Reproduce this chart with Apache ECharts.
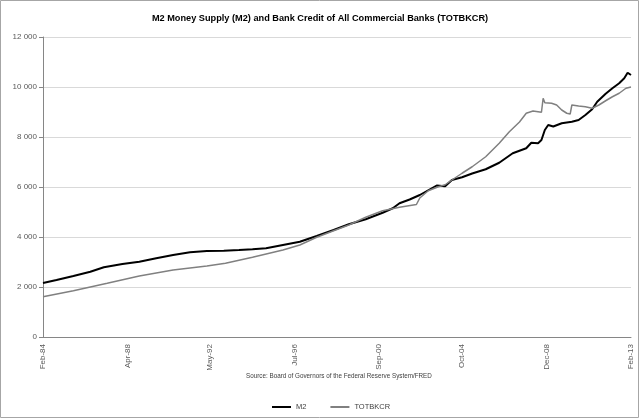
<!DOCTYPE html>
<html>
<head>
<meta charset="utf-8">
<script src="https://cdn.jsdelivr.net/npm/echarts@6/dist/echarts.min.js"></script>
<style>
html,body{margin:0;padding:0;background:#fff;}
#c{width:640px;height:419px;}
</style>
</head>
<body>
<div id="c"></div>
<script>
const monthNames = ['Jan','Feb','Mar','Apr','May','Jun','Jul','Aug','Sep','Oct','Nov','Dec'];
// Monthly categories Feb-84 .. Feb-13
const categories = [];
for (let y = 1984; y <= 2013; y++) {
  for (let m = 0; m < 12; m++) {
    if (y === 1984 && m < 1) continue;
    if (y === 2013 && m > 1) continue;
    categories.push(monthNames[m] + '-' + String(y).slice(2));
  }
}
const tickLabels = ['Feb-84','Apr-88','May-92','Jul-96','Sep-00','Oct-04','Dec-08','Feb-13'];

const m2Dates = ['Feb-84','Oct-84','Aug-85','Jun-86','Feb-87','Jan-88','Nov-88','Sep-89','Jul-90','May-91',
  'Mar-92','Jan-93','Oct-93','Jun-94','Feb-95','Dec-95','Oct-96','Aug-97','Jun-98','Mar-99',
  'Jan-00','Nov-00','May-01','Sep-01','Mar-02','Sep-02','Jul-03','Dec-03','Apr-04','Oct-04',
  'Apr-05','Dec-05','Aug-06','Apr-07','Dec-07','Mar-08','Jul-08','Sep-08','Nov-08','Jan-09',
  'Apr-09','Sep-09','Mar-10','Jul-10','Nov-10','Mar-11','Jun-11','Nov-11','Mar-12','Jul-12',
  'Oct-12','Dec-12','Feb-13'];
const m2Values = [2160,2280,2440,2610,2790,2920,3010,3150,3280,3390,
  3440,3450,3480,3510,3550,3680,3810,4040,4280,4510,
  4710,4970,5150,5350,5500,5680,6060,6030,6280,6390,
  6540,6710,6970,7350,7550,7770,7750,7880,8280,8480,
  8420,8550,8610,8680,8880,9110,9410,9730,9950,10150,
  10350,10570,10480];

const bankDates = ['Feb-84','Aug-85','Apr-87','Nov-88','Jul-90','Mar-92','Feb-93','Jun-94','Dec-95','Oct-96',
  'Aug-97','Jun-98','Mar-99','Jan-00','Nov-00','Sep-01','Jul-02','Sep-02','Feb-03','Aug-03',
  'Dec-03','Apr-04','Oct-04','Apr-05','Dec-05','Aug-06','Feb-07','Aug-07','Dec-07','Apr-08',
  'Sep-08','Oct-08','Nov-08','Mar-09','Jun-09','Sep-09','Dec-09','Feb-10','Mar-10','Jul-10',
  'Nov-10','Mar-11','Jul-11','Nov-11','Mar-12','Jul-12','Nov-12','Feb-13'];
const bankValues = [1610,1850,2150,2440,2680,2840,2950,3190,3480,3680,
  3990,4250,4480,4790,5050,5190,5300,5560,5850,6010,
  6090,6280,6550,6810,7210,7750,8210,8600,8950,9040,
  8990,9550,9370,9350,9280,9080,8950,8920,9280,9240,
  9210,9150,9280,9450,9610,9750,9950,10000];

const toPairs = (dates, vals) => dates.map((d, i) => [categories.indexOf(d), vals[i]]);

const chart = echarts.init(document.getElementById('c'), null, {renderer: 'canvas'});
const font = "'Liberation Sans', Arial, sans-serif";
chart.setOption({
  animation: false,
  backgroundColor: '#fff',
  textStyle: {fontFamily: font},
  title: {
    text: 'M2 Money Supply (M2) and Bank Credit of All Commercial Banks (TOTBKCR)',
    left: 'center', top: 9,
    textStyle: {fontSize: 9.2, fontWeight: 'bold', color: '#000', fontFamily: font}
  },
  grid: {left: 43, right: 9, top: 37, bottom: 82, containLabel: false, outerBoundsMode: 'none'},
  xAxis: {
    type: 'category',
    data: categories,
    boundaryGap: false,
    axisLine: {lineStyle: {color: '#868686', width: 1}},
    axisTick: {show: false},
    axisLabel: {
      interval: (i, v) => tickLabels.includes(v),
      rotate: 90, fontSize: 8, color: '#595959', margin: 7, fontFamily: font
    },
    splitLine: {show: false}
  },
  yAxis: {
    type: 'value', min: 0, max: 12000, interval: 2000,
    name: 'Billions of Dollars', nameLocation: 'middle', nameGap: 34,
    nameTextStyle: {fontSize: 8, color: '#595959', fontFamily: font},
    axisLine: {show: true, lineStyle: {color: '#868686'}},
    axisTick: {show: true, length: 4, lineStyle: {color: '#868686'}},
    axisLabel: {
      fontSize: 8, color: '#595959', margin: 6, fontFamily: font,
      formatter: v => String(v).replace(/\B(?=(\d{3})+(?!\d))/g, ' ')
    },
    splitLine: {lineStyle: {color: '#d9d9d9', width: 1}}
  },
  legend: {
    top: 398, left: 267, itemWidth: 19, itemHeight: 2, itemGap: 24, icon: 'rect',
    textStyle: {fontSize: 7.5, color: '#404040', fontFamily: font},
    data: ['M2', 'TOTBKCR']
  },
  graphic: [
    {type: 'text', left: 246, top: 373,
      style: {text: 'Source: Board of Governors of the Federal Reserve System/FRED', fontSize: 6.3, fill: '#404040', fontFamily: font}},
    {type: 'rect', shape: {x: 0.5, y: 0.5, width: 638, height: 417}, style: {fill: 'none', stroke: '#a6a6a6', lineWidth: 1}, silent: true}
  ],
  series: [
    {name: 'M2', type: 'line', data: toPairs(m2Dates, m2Values), showSymbol: false,
      lineStyle: {color: '#000', width: 2}, itemStyle: {color: '#000'}},
    {name: 'TOTBKCR', type: 'line', data: toPairs(bankDates, bankValues), showSymbol: false,
      lineStyle: {color: '#808080', width: 1.5}, itemStyle: {color: '#808080'}}
  ]
});
</script>
</body>
</html>
